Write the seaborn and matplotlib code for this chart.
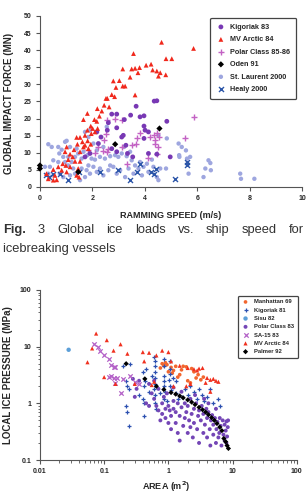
import matplotlib
matplotlib.use('Agg')
import matplotlib.pyplot as plt
import numpy as np
import pandas as pd
import seaborn as sns

sns.set_style('ticks')
plt.rcParams['font.family'] = ['Liberation Sans', 'DejaVu Sans']

# ---------------- top chart: global impact force vs ramming speed ----------------
arctic84_speed = [4.64, 5.86, 3.57, 4.81, 5.03, 4.05, 4.24, 3.16, 3.50, 3.63, 3.80, 4.30, 4.46, 4.59, 4.52,
                  4.80, 3.74, 3.44, 2.80, 3.03, 2.90, 3.16, 3.25, 2.74, 2.85, 3.63, 2.52, 2.57, 2.45, 2.64,
                  2.19, 2.36, 1.81, 1.66, 2.27, 2.08, 2.17, 1.94, 2.01, 2.20, 2.10, 1.81, 1.96, 1.72, 1.53,
                  1.40, 1.82, 1.62, 1.72, 1.43, 1.94, 1.02, 1.30, 1.53, 1.15, 0.96, 1.25, 1.08, 1.34, 1.53,
                  0.87, 0.99, 1.15, 1.46, 0.70, 0.51, 0.83, 1.02, 0.25, 0.57, 1.40, 0.51, 0.64, 0.32, 1.49,
                  1.66, 1.85]
arctic84_force = [42.3, 40.5, 39.0, 37.5, 37.5, 35.6, 35.9, 34.5, 34.5, 34.7, 34.9, 34.2, 33.9, 33.4, 32.4,
                  32.8, 33.4, 32.1, 31.0, 31.1, 29.1, 29.5, 29.5, 27.0, 26.4, 26.9, 25.9, 25.9, 23.9, 23.4,
                  22.9, 22.2, 21.5, 19.7, 20.7, 19.7, 19.2, 17.8, 17.1, 17.1, 16.1, 16.6, 15.6, 15.1, 14.5,
                  14.5, 13.5, 13.2, 12.2, 12.5, 12.5, 11.7, 10.9, 10.3, 9.6, 10.3, 8.8, 8.0, 7.5, 7.5,
                  6.8, 6.3, 5.9, 5.4, 5.9, 5.1, 4.9, 4.4, 3.9, 3.4, 3.4, 2.0, 2.1, 2.4, 2.9,
                  11.7, 11.2]

kig83_speed = [4.84, 4.46, 4.36, 3.67, 2.74, 2.93, 3.46, 3.82, 3.97, 2.61, 2.93, 3.97, 4.01, 4.14, 2.33,
               3.18, 3.12, 3.97, 3.22, 2.57, 2.23, 2.74, 2.93, 4.14, 4.46, 4.97, 2.17, 3.34, 3.54, 3.28,
               1.72, 1.91]
kig83_force = [19.2, 25.2, 25.1, 23.6, 21.3, 21.3, 21.0, 20.5, 20.8, 18.8, 17.3, 17.8, 16.6, 16.1, 14.6,
               15.1, 14.6, 14.2, 19.7, 16.6, 12.7, 11.2, 10.3, 9.8, 9.6, 8.8, 16.1, 9.8, 8.8, 12.2,
               8.8, 9.8]

polar8586_speed = [5.86, 5.54, 2.87, 4.46, 4.36, 4.39, 4.55, 4.39, 3.69, 3.82, 3.50, 3.66, 2.45, 2.61, 2.42,
                   2.23, 1.85, 2.10, 3.12, 2.55, 4.46, 3.34, 4.14, 4.52, 2.57, 3.12, 4.20, 2.52]
polar8586_force = [20.5, 14.2, 19.8, 15.8, 15.1, 13.7, 14.6, 12.7, 14.2, 15.8, 12.2, 12.7, 13.7, 11.2, 10.5,
                   11.7, 10.9, 9.8, 11.7, 10.3, 9.5, 6.8, 8.6, 11.7, 19.7, 19.7, 14.6, 15.6]

oden91_speed = [0.0, 0.0, 1.46, 2.87, 4.56]
oden91_force = [6.3, 5.4, 4.4, 12.5, 17.1]

laurent_speed = [0.32, 0.45, 0.70, 0.83, 0.96, 1.02, 1.15, 0.74, 0.89, 1.08, 0.51, 0.70, 0.96, 1.21, 1.34,
                 1.46, 1.59, 1.81, 1.97, 2.10, 2.29, 2.48, 2.68, 2.87, 2.99, 3.12, 3.31, 3.50, 3.63, 3.82,
                 3.95, 4.08, 4.27, 4.33, 4.59, 4.81, 4.84, 4.52, 5.29, 5.41, 5.31, 5.32, 5.57, 5.61, 5.73,
                 5.67, 6.24, 6.31, 6.43, 6.50, 6.52, 7.64, 7.67, 8.18, 0.19, 0.38, 0.32, 0.76, 0.89, 1.15,
                 1.34, 1.53, 1.72, 1.59, 1.78, 1.91, 2.04, 2.17, 2.29, 2.42, 2.61, 2.80, 2.93, 3.06, 3.25,
                 3.38, 3.57, 3.76, 3.89, 4.14, 4.46, 4.52, 1.72, 1.91, 1.85, 2.04, 1.40, 1.66, 2.17, 2.42,
                 2.55, 3.21, 3.44, 2.68, 1.85, 1.27, 1.08]
laurent_force = [12.5, 11.7, 11.7, 10.9, 13.2, 13.5, 11.7, 9.8, 8.8, 8.8, 7.8, 7.3, 7.3, 7.3, 8.8,
                 9.8, 8.3, 9.3, 8.3, 8.0, 8.8, 8.3, 9.0, 9.3, 8.8, 9.8, 9.0, 7.8, 6.3, 7.3,
                 5.9, 6.8, 8.0, 5.9, 5.4, 5.4, 14.2, 15.1, 12.7, 11.7, 9.3, 8.8, 10.7, 8.3, 8.8,
                 3.9, 2.9, 5.4, 7.8, 7.0, 4.9, 3.9, 2.4, 2.4, 5.9, 5.9, 3.9, 3.9, 2.9, 3.4,
                 3.9, 2.0, 2.9, 5.4, 4.9, 3.9, 5.9, 4.4, 5.4, 3.4, 4.9, 5.9, 3.9, 4.9, 2.9,
                 5.4, 3.9, 5.4, 3.4, 4.4, 2.9, 2.0, 16.1, 16.6, 14.6, 12.7, 11.2, 10.3, 10.7, 11.7,
                 17.6, 11.7, 10.3, 6.3, 6.3, 5.4, 6.3]

healy_speed = [0.23, 0.36, 0.51, 0.76, 1.08, 2.29, 2.96, 3.44, 3.69, 3.82, 4.23, 4.36, 4.43, 5.16, 5.61,
               5.61, 1.49]
healy_force = [3.4, 2.9, 3.9, 3.9, 2.0, 4.4, 5.1, 2.0, 4.4, 6.8, 4.4, 3.9, 5.4, 2.4, 7.3,
               6.3, 4.4]

# ---------------- bottom chart: local ice pressure vs area ----------------
manhattan_area = [0.80, 0.85, 0.90, 0.95, 1.10, 1.20, 1.30, 1.00, 1.50, 1.70, 1.90, 2.00, 2.20, 2.50, 2.70,
                  2.90, 3.20, 3.50, 1.40, 0.75, 1.15, 2.30, 1.60]
manhattan_press = [5.0, 4.6, 5.2, 4.8, 4.3, 3.8, 4.5, 3.6, 3.2, 4.5, 4.4, 2.5, 2.3, 3.6, 2.8,
                   3.2, 2.6, 2.9, 2.9, 4.2, 3.4, 4.1, 3.9]

kig81_area = [0.22, 0.23, 0.24, 0.20, 0.25, 0.22, 0.23, 0.24, 0.42, 0.42, 0.40, 0.42, 0.43, 0.40, 0.45,
              0.60, 0.62, 0.63, 0.61, 0.62, 0.63, 0.60, 0.62, 0.63, 0.65, 0.85, 0.85, 0.86, 0.84, 0.85,
              0.87, 0.86, 1.05, 1.05, 1.07, 1.03, 1.05, 1.10, 1.30, 1.30, 1.40, 1.60, 1.80, 2.00, 2.20,
              2.50, 2.80, 3.00, 3.30, 3.60, 4.00, 4.50, 5.00, 6.00, 6.30, 0.75, 0.95, 1.20, 0.50, 0.35,
              0.55]
kig81_press = [0.9, 0.7, 0.4, 4.5, 5.0, 2.5, 2.0, 1.8, 0.6, 1.0, 1.2, 2.0, 2.5, 3.5, 4.0,
               6.5, 5.5, 4.5, 3.5, 2.8, 2.2, 1.8, 1.4, 1.0, 0.8, 6.0, 4.5, 3.0, 2.5, 2.0,
               1.6, 1.2, 5.5, 4.0, 3.3, 2.6, 2.0, 1.7, 1.5, 2.5, 1.2, 1.3, 1.8, 1.4, 2.0,
               1.6, 1.2, 1.8, 1.4, 1.1, 1.3, 1.8, 1.0, 1.2, 0.9, 1.5, 1.1, 2.8, 1.6, 1.4,
               3.0]

sisu_area = [0.028]
sisu_press = [8.8]

polar83_area = [0.30, 0.35, 0.28, 0.32, 0.45, 0.50, 0.50, 0.55, 0.60, 0.65, 0.70, 0.70, 0.80, 0.80, 0.85,
                0.90, 0.90, 0.95, 1.00, 1.00, 1.10, 1.10, 1.20, 1.20, 1.30, 1.30, 1.40, 1.40, 1.50, 1.50,
                1.60, 1.70, 1.80, 1.80, 1.90, 2.00, 2.00, 2.10, 2.20, 2.30, 2.40, 2.50, 2.50, 2.70, 2.80,
                2.90, 3.00, 3.00, 3.20, 3.30, 3.50, 3.50, 3.70, 3.90, 4.00, 4.00, 4.20, 4.40, 4.50, 4.60,
                4.80, 5.00, 5.00, 5.30, 5.50, 5.60, 5.80, 6.00, 6.20, 6.30, 6.50, 6.70, 7.00, 7.20, 7.50,
                7.80, 8.00, 8.20, 8.40, 8.50, 3.60, 4.20, 2.60, 1.60, 1.20, 0.60, 0.75, 1.05, 2.20, 5.50,
                7.50, 8.00]
polar83_press = [1.3, 2.5, 2.7, 1.8, 1.0, 0.9, 2.2, 1.5, 1.2, 0.9, 1.8, 0.75, 1.0, 0.65, 1.3,
                 0.8, 0.55, 1.5, 0.45, 0.9, 0.35, 0.6, 0.8, 1.1, 0.45, 0.7, 1.0, 0.3, 0.6, 0.22,
                 0.85, 0.4, 0.55, 1.0, 0.7, 0.3, 0.9, 0.5, 1.2, 0.65, 0.25, 0.45, 0.8, 1.0, 0.35,
                 0.6, 0.2, 0.75, 0.5, 0.9, 0.3, 0.65, 0.42, 0.8, 0.25, 0.55, 0.7, 0.35, 0.18, 0.5,
                 0.62, 0.28, 0.42, 0.55, 0.2, 0.35, 0.47, 0.25, 0.3, 0.55, 0.4, 0.18, 0.5, 0.28, 0.42,
                 0.33, 0.48, 0.26, 0.38, 0.5, 1.2, 1.0, 1.4, 1.6, 1.9, 2.5, 0.5, 0.75, 0.38, 0.8,
                 0.22, 0.2]

sa15_area = [0.070, 0.080, 0.085, 0.10, 0.12, 0.13, 0.14, 0.15, 0.13, 0.14, 0.16, 0.15, 0.18, 0.20, 0.25,
             0.30, 0.35, 0.12]
sa15_press = [11.0, 10.0, 8.5, 7.0, 6.0, 4.8, 4.4, 4.4, 3.0, 2.8, 2.8, 2.3, 1.5, 2.7, 3.0,
              2.4, 2.2, 2.9]

arctic84b_area = [0.055, 0.065, 0.075, 0.10, 0.11, 0.14, 0.18, 0.15, 0.23, 0.30, 0.40, 0.42, 0.50, 0.55, 0.65,
                  0.80, 1.00, 0.60, 1.50, 2.00, 2.50, 3.00, 3.40, 2.80, 4.00, 4.50, 5.00, 5.50, 6.00, 4.50,
                  1.10, 1.20, 3.80, 2.20, 1.90]
arctic84b_press = [5.3, 9.3, 17.0, 2.9, 13.0, 8.5, 11.0, 2.2, 7.5, 2.2, 8.0, 5.5, 7.8, 2.1, 7.0,
                   8.5, 8.0, 2.4, 4.6, 4.2, 4.0, 4.1, 4.2, 3.8, 2.8, 2.6, 2.7, 2.5, 2.4, 1.6,
                   5.5, 2.0, 2.3, 2.2, 2.0]

palmer_area = [0.22, 0.43, 0.65, 0.85, 1.10, 1.30, 1.50, 1.70, 2.00, 2.30, 2.60, 3.00, 3.40, 3.80, 4.20,
               4.70, 5.20, 5.70, 6.30, 6.80, 7.30, 7.80, 8.20, 8.60]
palmer_press = [5.0, 2.7, 2.0, 1.75, 1.55, 1.45, 1.35, 1.25, 1.15, 1.05, 0.95, 0.85, 0.77, 0.70, 0.63,
                0.56, 0.50, 0.44, 0.38, 0.33, 0.24, 0.21, 0.18, 0.16]

top_xticks = [0, 2, 4, 6, 8, 10]
top_yticks = [0, 5, 10, 15, 20, 25, 30, 35, 40, 45, 50]
log_ticks = [0.01, 0.1, 1, 10, 100]
log_xticklabels = ['0.01', '0.1', '1', '10', '100']
log_yticklabels = ['0.1', '1', '10', '100']

fig = plt.figure(figsize=(3.07, 4.93), dpi=100)
ax1 = fig.add_axes([0.130, 0.6207, 0.854, 0.347])
ax2 = fig.add_axes([0.130, 0.0669, 0.837, 0.345])

# top chart series: (label, x, y, colour, marker, size)
top_series = [
    ('St. Laurent 2000', laurent_speed, laurent_force, '#9ea6df', 'o', 10),
    ('Healy 2000', healy_speed, healy_force, '#2b55a8', 'x', 13),
    ('Polar Class 85-86', polar8586_speed, polar8586_force, '#c362c4', '+', 20),
    ('Kigoriak 83', kig83_speed, kig83_force, '#7838b4', 'o', 12),
    ('MV Arctic 84', arctic84_speed, arctic84_force, '#f0281c', '^', 12),
    ('Oden 91', oden91_speed, oden91_force, '#000000', 'D', 10),
]
for label, xs, ys, col, mk, sz in top_series:
    kw = dict(edgecolor='none') if mk not in ('+', 'x') else dict(linewidth=1.0)
    sns.scatterplot(x=xs, y=ys, ax=ax1, color=col, marker=mk, s=sz, label=label,
                    clip_on=False, zorder=3, **kw)

ax1.set_xlim(0, 10)
ax1.set_ylim(0, 50)
ax1.set_xticks(top_xticks, labels=[str(v) for v in top_xticks], fontweight='bold')
ax1.set_yticks(top_yticks, labels=[str(v) for v in top_yticks], fontweight='bold')
ax1.set_xlabel('RAMMING SPEED (m/s)', fontsize=6.5, fontweight='bold')
ax1.set_ylabel('GLOBAL IMPACT FORCE (MN)', fontsize=7, fontweight='bold')
ax1.xaxis.set_label_coords(0.5, -0.14)
ax1.yaxis.set_label_coords(-0.10, 0.488)

h, l = ax1.get_legend_handles_labels()
order = ['Kigoriak 83', 'MV Arctic 84', 'Polar Class 85-86', 'Oden 91', 'St. Laurent 2000', 'Healy 2000']
hmap = dict(zip(l, h))
leg1 = ax1.legend([hmap[k] for k in order], order, loc='upper right', bbox_to_anchor=(0.977, 0.988),
                  prop={'size': 5.2, 'weight': 'bold'}, labelspacing=0.75, handletextpad=0.6,
                  borderpad=0.8, handlelength=1.4, borderaxespad=0, fancybox=True, framealpha=1,
                  edgecolor='#444444')
leg1.get_frame().set_linewidth(0.9)

# bottom chart series
bottom_series = [
    ('Manhattan 69', manhattan_area, manhattan_press, '#f2662e', 'o', 7),
    ('Kigoriak 81', kig81_area, kig81_press, '#2c50b0', '+', 12),
    ('Sisu 82', sisu_area, sisu_press, '#5c9fd8', 'o', 10),
    ('Polar Class 83', polar83_area, polar83_press, '#7446b6', 'o', 8),
    ('SA-15 83', sa15_area, sa15_press, '#b462c8', 'x', 10),
    ('MV Arctic 84', arctic84b_area, arctic84b_press, '#f0301e', '^', 9),
    ('Palmer 92', palmer_area, palmer_press, '#000000', 'D', 7),
]
for label, xs, ys, col, mk, sz in bottom_series:
    kw = dict(edgecolor='none') if mk not in ('+', 'x') else dict(linewidth=0.9)
    sns.scatterplot(x=xs, y=ys, ax=ax2, color=col, marker=mk, s=sz, label=label, zorder=3, **kw)

ax2.set_xscale('log')
ax2.set_yscale('log')
ax2.set_xlim(0.01, 100)
ax2.set_ylim(0.1, 100)
ax2.set_xticks(log_ticks, labels=log_xticklabels, fontweight='bold')
ax2.set_yticks(log_ticks[1:], labels=log_yticklabels, fontweight='bold')
ax2.set_xlabel('AREA (m$^\\mathbf{2}$)', fontsize=6.5, fontweight='bold')
ax2.set_ylabel('LOCAL ICE PRESSURE (MPa)', fontsize=7, fontweight='bold')
ax2.xaxis.set_label_coords(0.49, -0.115)
ax2.yaxis.set_label_coords(-0.105, 0.5)

leg2 = ax2.legend(loc='upper right', bbox_to_anchor=(1.004, 0.965),
                  prop={'size': 4.2, 'weight': 'bold'}, labelspacing=0.55, handletextpad=0.8,
                  borderpad=0.6, handlelength=1.4, borderaxespad=0, fancybox=True, framealpha=1,
                  edgecolor='#444444')
leg2.get_frame().set_linewidth(0.9)

for ax in (ax1, ax2):
    sns.despine(ax=ax)
    ax.spines['left'].set_color('#555555')
    ax.spines['bottom'].set_color('#555555')
    ax.tick_params(axis='both', which='major', labelsize=5, direction='out', length=3,
                   width=0.8, color='#555555', pad=3)
    ax.tick_params(axis='both', which='minor', direction='out', length=1.8, width=0.6, color='#555555')
    ax.grid(False)
ax1.minorticks_off()

# justified caption line
words = ['Fig.', '3', 'Global', 'ice', 'loads', 'vs.', 'ship', 'speed', 'for']
W, H = 307, 493
texts = [fig.text(0, 1 - 233 / H, w, fontsize=9.3, color='#333333', va='baseline',
                  fontweight='bold' if w == 'Fig.' else 'normal') for w in words]
fig.canvas.draw()
r = fig.canvas.get_renderer()
widths = [t.get_window_extent(r).width for t in texts]
gap = (W - 6 - sum(widths)) / (len(words) - 1)
xpos = 3
for t, wd in zip(texts, widths):
    t.set_x(xpos / W)
    xpos += wd + gap
fig.text(3 / W, 1 - 252 / H, 'icebreaking vessels', fontsize=9.3, color='#333333', va='baseline')

fig.savefig('out.png', dpi=100)
